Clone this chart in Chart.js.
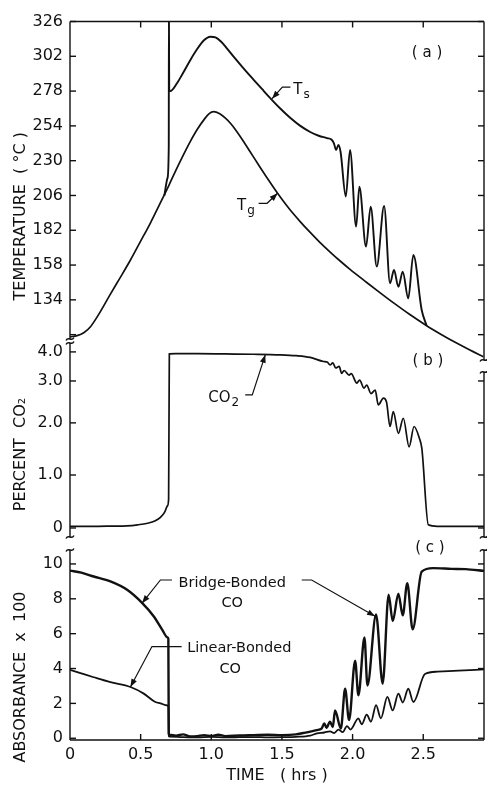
<!DOCTYPE html>
<html>
<head>
<meta charset="utf-8">
<title>Temperature, CO2 and adsorbed CO vs time</title>
<script src="https://cdn.jsdelivr.net/npm/chart.js@4.4.0/dist/chart.umd.min.js"></script>
<style>
html, body { margin: 0; padding: 0; background: #fff; }
#wrap { position: relative; width: 487px; height: 785px; }
#wrap canvas { position: absolute; left: 0; top: 0; }
</style>
</head>
<body>
<div id="wrap">
  <canvas id="tempChart" width="487" height="785"></canvas>
  <canvas id="co2Chart" width="487" height="785"></canvas>
  <canvas id="coChart" width="487" height="785"></canvas>
</div>
<script>
// ---- data (time in hrs) ----
const timeTicks = [0, 0.5, 1.0, 1.5, 2.0, 2.5];
const tempTicks = [110, 134, 158, 182, 206, 230, 254, 278, 302, 326];
const co2Ticks = [0, 1, 2, 3, 4];
const absTicks = [0, 2, 4, 6, 8, 10];

// (a) surface temperature Ts
const tsTime = [0.668, 0.69, 0.699, 0.700, 0.702, 0.71, 0.757, 0.80, 0.852, 0.90, 0.95, 0.993, 1.03, 1.07, 1.11, 1.158, 1.228, 1.30, 1.36, 1.417, 1.49, 1.558, 1.63, 1.70, 1.76, 1.818, 1.85, 1.868, 1.883, 1.90, 1.915, 1.952, 1.982, 2.025, 2.048, 2.095, 2.128, 2.171, 2.223, 2.265, 2.293, 2.324, 2.355, 2.394, 2.43, 2.489, 2.524];
const tsTemp = [206, 218, 240, 335, 279, 278, 283.4, 290.5, 299.5, 307, 313.2, 315.5, 315, 312, 307.5, 301.7, 293.7, 285.8, 279.3, 273.2, 265.8, 259.6, 254, 249.8, 247.2, 245.6, 244.6, 242, 237.4, 240.8, 236, 205.2, 237.4, 184.5, 212, 170.7, 198.3, 157, 198.7, 145.4, 154.6, 143, 153.4, 135, 165, 127, 116.2];

// (a) gas temperature Tg
const tgTime = [0, 0.05, 0.1, 0.145, 0.2, 0.286, 0.35, 0.428, 0.5, 0.569, 0.63, 0.7, 0.75, 0.8, 0.85, 0.9, 0.95, 0.985, 1.016, 1.06, 1.1, 1.14, 1.18, 1.22, 1.276, 1.335, 1.394, 1.469, 1.55, 1.629, 1.7, 1.77, 1.841, 1.912, 1.982, 2.1, 2.2, 2.3, 2.4, 2.524, 2.63, 2.736, 2.83, 2.925];
const tgTemp = [108.5, 109.3, 111.5, 115.5, 123.5, 138, 148.5, 161.5, 174.5, 187, 199, 213, 223.5, 233.5, 243, 251.5, 258.5, 262.5, 263.8, 262.3, 259.3, 255.3, 250.2, 244.5, 236, 227, 218.2, 207.5, 197, 188, 180.5, 173.5, 167, 160.8, 155, 146, 138.5, 131.2, 124.2, 116.2, 110, 104.2, 99.4, 94.8];

// (b) percent CO2
const co2Time = [0, 0.15, 0.3, 0.4, 0.48, 0.55, 0.6, 0.64, 0.67, 0.69, 0.698, 0.703, 0.75, 0.9, 1.1, 1.3, 1.488, 1.6, 1.7, 1.794, 1.82, 1.841, 1.86, 1.88, 1.905, 1.923, 1.94, 1.975, 1.99, 2.03, 2.05, 2.08, 2.1, 2.13, 2.16, 2.182, 2.218, 2.24, 2.265, 2.288, 2.324, 2.359, 2.4, 2.435, 2.472, 2.49, 2.536, 2.6, 2.93];
const co2Pct = [0.03, 0.03, 0.035, 0.04, 0.06, 0.09, 0.13, 0.2, 0.3, 0.42, 0.55, 3.93, 3.94, 3.94, 3.93, 3.92, 3.9, 3.87, 3.81, 3.67, 3.65, 3.55, 3.62, 3.45, 3.5, 3.26, 3.36, 3.2, 3.25, 2.95, 3.03, 2.83, 2.9, 2.7, 2.78, 2.43, 2.59, 2.5, 1.93, 2.27, 1.8, 2.11, 1.54, 1.93, 1.71, 1.51, 0.06, 0.03, 0.03];

// (c) absorbance x 100, bridge-bonded CO
const bridgeTime = [0, 0.08, 0.168, 0.286, 0.404, 0.51, 0.592, 0.651, 0.691, 0.696, 0.699, 0.705, 0.75, 0.8, 0.85, 0.9, 0.95, 1.0, 1.05, 1.1, 1.2, 1.3, 1.4, 1.5, 1.6, 1.65, 1.7, 1.747, 1.78, 1.80, 1.815, 1.84, 1.86, 1.876, 1.917, 1.947, 1.975, 2.018, 2.041, 2.084, 2.105, 2.166, 2.213, 2.255, 2.284, 2.324, 2.355, 2.387, 2.425, 2.489, 2.57, 2.7, 2.8, 2.93];
const bridgeAbs = [9.62, 9.5, 9.28, 9.0, 8.52, 7.77, 7.0, 6.25, 5.78, 5.7, 0.25, 0.2, 0.15, 0.22, 0.1, 0.12, 0.18, 0.12, 0.2, 0.12, 0.16, 0.18, 0.2, 0.18, 0.22, 0.3, 0.38, 0.47, 0.55, 0.85, 0.6, 0.95, 0.65, 1.6, 0.55, 2.84, 1.04, 4.45, 2.46, 5.78, 3.03, 7.1, 3.13, 8.24, 6.72, 8.3, 7.05, 8.9, 6.25, 9.56, 9.76, 9.72, 9.7, 9.6];

// (c) absorbance x 100, linear-bonded CO
const linearTime = [0, 0.08, 0.168, 0.286, 0.428, 0.522, 0.604, 0.64, 0.69, 0.696, 0.699, 0.705, 0.8, 0.9, 1.0, 1.1, 1.2, 1.3, 1.4, 1.5, 1.6, 1.7, 1.747, 1.8, 1.84, 1.87, 1.9, 1.93, 1.96, 1.985, 2.041, 2.065, 2.1, 2.13, 2.166, 2.2, 2.246, 2.284, 2.324, 2.355, 2.394, 2.43, 2.512, 2.6, 2.75, 2.93];
const linearAbs = [3.92, 3.72, 3.5, 3.22, 2.94, 2.56, 2.08, 2.0, 1.88, 1.85, 0.12, 0.1, 0.06, 0.05, 0.08, 0.05, 0.06, 0.07, 0.05, 0.06, 0.08, 0.15, 0.28, 0.33, 0.4, 0.3, 0.5, 0.35, 0.7, 0.5, 1.14, 0.8, 1.36, 0.95, 1.9, 1.14, 2.37, 1.6, 2.56, 2.05, 2.84, 2.08, 3.69, 3.82, 3.88, 3.95];

// the CO2 axis of the original is not linear: where each tick sits, as a fraction of the 0..4 span
const co2TickStops = [0, 0.301, 0.597, 0.835, 1];

const INK = '#111';
const FONT = '"DejaVu Sans", "Liberation Sans", sans-serif';
Chart.defaults.font.family = FONT;
Chart.defaults.color = INK;

function co2Warp(v) {
    const f = co2TickStops;
    if (v <= 0) return f[1] * v;
    if (v >= 4) return 1 + (f[4] - f[3]) * (v - 4);
    const i = Math.min(Math.floor(v), 3);
    return f[i] + (f[i + 1] - f[i]) * (v - i);
}

function co2Unwarp(w) {
    const f = co2TickStops;
    if (w <= 0) return w / f[1];
    if (w >= 1) return 4 + (w - 1) / (f[4] - f[3]);
    for (let i = 0; i < 4; i++) {
        if (w <= f[i + 1]) return i + (w - f[i]) / (f[i + 1] - f[i]);
    }
    return 4;
}

class WarpScale extends Chart.LinearScale {
    getPixelForValue(value) {
        if (value === null || value === undefined) return NaN;
        const lo = co2Warp(this.min), hi = co2Warp(this.max);
        return this.getPixelForDecimal((co2Warp(value) - lo) / (hi - lo));
    }
    getValueForPixel(pixel) {
        const lo = co2Warp(this.min), hi = co2Warp(this.max);
        return co2Unwarp(lo + this.getDecimalForPixel(pixel) * (hi - lo));
    }
}
WarpScale.id = 'warp';
WarpScale.defaults = Chart.LinearScale.defaults;
Chart.register(WarpScale);

function pts(xs, ys) {
    return xs.map((x, i) => ({ x: x, y: ys[i] }));
}

function curve(label, xs, ys, width, extra) {
    return Object.assign({
        label: label,
        data: pts(xs, ys),
        borderColor: INK,
        borderWidth: width,
        pointRadius: 0,
        fill: false,
        cubicInterpolationMode: 'monotone'
    }, extra || {});
}

function timeAxis(showLabels) {
    return {
        type: 'linear',
        min: 0,
        max: 2.93,
        afterBuildTicks: s => { s.ticks = timeTicks.map(v => ({ value: v })); },
        grid: { display: false, drawTicks: false },
        border: { display: false },
        ticks: {
            display: showLabels, color: INK, padding: 5, autoSkip: false, maxRotation: 0,
            font: { family: FONT, size: 16 },
            callback: v => v === 0 ? '0' : v.toFixed(1)
        },
        title: {
            display: showLabels, text: 'TIME   ( hrs )', color: INK,
            font: { family: FONT, size: 16 }, padding: 0
        },
        afterFit: s => { s.height = showLabels ? 45 : 0; }
    };
}

function valueAxis(o) {
    return {
        type: o.type || 'linear',
        min: o.min,
        max: o.max,
        afterBuildTicks: s => { s.ticks = o.ticks.map(v => ({ value: v })); },
        grid: { display: false, drawTicks: false },
        border: { display: false },
        ticks: {
            color: INK, padding: 7, autoSkip: false,
            font: { family: FONT, size: 16 },
            callback: o.format
        },
        title: {
            display: true, text: o.title, color: INK,
            font: { family: FONT, size: 16 }, padding: { top: 11, bottom: 0 }
        },
        afterFit: s => { s.width = 70; }
    };
}

// frame, inward tick marks and axis-break squiggles
function framePlugin(f) {
    return {
        id: 'frame',
        afterDatasetsDraw(chart) {
            const ctx = chart.ctx, a = chart.chartArea;
            const xs = chart.scales.x, ys = chart.scales.y;
            const lTop = a.top + f.left[0], lBot = a.bottom + f.left[1];
            const rTop = a.top + f.right[0], rBot = a.bottom + f.right[1];
            const seg = (x1, y1, x2, y2) => {
                ctx.beginPath(); ctx.moveTo(x1, y1); ctx.lineTo(x2, y2); ctx.stroke();
            };
            ctx.save();
            ctx.strokeStyle = INK;
            ctx.lineWidth = 1.4;
            seg(a.left, lTop, a.left, lBot);
            seg(a.right, rTop, a.right, rBot);
            if (f.top) seg(a.left, a.top, a.right, a.top);
            if (f.bottom) seg(a.left, a.bottom, a.right, a.bottom);
            ys.ticks.forEach(t => {
                const py = ys.getPixelForValue(t.value);
                if (py >= lTop - 1 && py <= lBot + 1) seg(a.left, py, a.left + 6, py);
                if (py >= rTop - 1 && py <= rBot + 1) seg(a.right - 6, py, a.right, py);
            });
            xs.ticks.forEach(t => {
                if (t.value === 0) return;
                const px = xs.getPixelForValue(t.value);
                if (f.top) seg(px, a.top, px, a.top + 6);
                if (f.bottom) seg(px, a.bottom - 6, px, a.bottom);
            });
            (f.breaks || []).forEach(b => {
                const bx = b[0] === 'left' ? a.left : a.right;
                const by = (b[1] === 'top' ? a.top : a.bottom) + b[2];
                ctx.beginPath();
                ctx.moveTo(bx - 4, by + 1.5);
                ctx.bezierCurveTo(bx - 1.5, by - 3.5, bx + 1.5, by + 3.5, bx + 4, by - 1.5);
                ctx.stroke();
            });
            ctx.restore();
        }
    };
}

// curve labels with leader arrows, placed in data coordinates
function notesPlugin(notes) {
    return {
        id: 'notes',
        afterDatasetsDraw(chart) {
            const ctx = chart.ctx, xs = chart.scales.x, ys = chart.scales.y;
            const P = p => [xs.getPixelForValue(p[0]), ys.getPixelForValue(p[1])];
            ctx.save();
            ctx.fillStyle = INK;
            ctx.strokeStyle = INK;
            notes.forEach(n => {
                if (n.path) {
                    const q = n.path.map(P);
                    ctx.lineWidth = 1.2;
                    ctx.beginPath();
                    q.forEach((p, i) => i ? ctx.lineTo(p[0], p[1]) : ctx.moveTo(p[0], p[1]));
                    ctx.stroke();
                    const [x1, y1] = q[q.length - 2], [x2, y2] = q[q.length - 1];
                    const ang = Math.atan2(y2 - y1, x2 - x1), L = 8, W = 3;
                    ctx.beginPath();
                    ctx.moveTo(x2, y2);
                    ctx.lineTo(x2 - L * Math.cos(ang) + W * Math.sin(ang), y2 - L * Math.sin(ang) - W * Math.cos(ang));
                    ctx.lineTo(x2 - L * Math.cos(ang) - W * Math.sin(ang), y2 - L * Math.sin(ang) + W * Math.cos(ang));
                    ctx.closePath();
                    ctx.fill();
                }
                (n.text || []).forEach(t => {
                    const [px, py] = P(t.at);
                    ctx.font = (t.size || 15) + 'px ' + FONT;
                    ctx.textAlign = t.align || 'left';
                    ctx.textBaseline = 'alphabetic';
                    ctx.fillText(t.s, px, py);
                    if (t.sub) {
                        const w = ctx.measureText(t.s).width;
                        ctx.font = '12px ' + FONT;
                        ctx.textAlign = 'left';
                        ctx.fillText(t.sub, px + w + 1, py + 4);
                    }
                });
            });
            ctx.restore();
        }
    };
}

function common(padding) {
    return {
        responsive: false,
        animation: false,
        events: [],
        layout: { padding: padding },
        plugins: { legend: { display: false }, tooltip: { enabled: false } }
    };
}

// ---- (a) temperature ----
new Chart(document.getElementById('tempChart'), {
    type: 'line',
    data: {
        datasets: [
            curve('Ts', tsTime, tsTemp, 1.9, { clip: 0 }),
            curve('Tg', tgTime, tgTemp, 1.7, { clip: false })
        ]
    },
    options: Object.assign(common({ top: 21.5, right: 3, bottom: 446, left: 0 }), {
        scales: {
            x: timeAxis(false),
            y: valueAxis({
                min: 107, max: 326, ticks: tempTicks,
                title: 'TEMPERATURE  ( °C )' + '\u2002'.repeat(9),
                format: v => v === 110 ? '' : String(v)
            })
        }
    }),
    plugins: [
        framePlugin({ left: [0, 0], right: [0, 21], top: true, bottom: false,
            breaks: [['left', 'bottom', 0], ['right', 'bottom', 21]] }),
        notesPlugin([
            { path: [[1.56, 280.8], [1.503, 280.8], [1.43, 272.8]], text: [{ s: 'T', at: [1.58, 276], sub: 's' }] },
            { path: [[1.335, 200.6], [1.395, 200.6], [1.469, 207.5]], text: [{ s: 'T', at: [1.182, 196], sub: 'g' }] },
            { text: [{ s: '( a )', at: [2.527, 301.5], align: 'center' }] }
        ])
    ]
});

// ---- (b) percent CO2 ----
new Chart(document.getElementById('co2Chart'), {
    type: 'line',
    data: {
        datasets: [curve('CO2', co2Time, co2Pct, 1.7)]
    },
    options: Object.assign(common({ top: 340, right: 3, bottom: 248, left: 0 }), {
        scales: {
            x: timeAxis(false),
            y: valueAxis({
                type: 'warp', min: -0.17, max: 4.41, ticks: co2Ticks,
                title: 'PERCENT  CO\u2082' + '\u2002'.repeat(4),
                format: v => v === 0 ? '0' : v.toFixed(1)
            })
        }
    }),
    plugins: [
        framePlugin({ left: [3, 0], right: [32, 0], top: false, bottom: false,
            breaks: [['left', 'top', 3], ['left', 'bottom', 0], ['right', 'top', 32], ['right', 'bottom', 0]] }),
        notesPlugin([
            { path: [[1.24, 2.667], [1.29, 2.667], [1.382, 3.9]], text: [{ s: 'CO', at: [0.979, 2.5], sub: '2' }] },
            { text: [{ s: '( b )', at: [2.533, 3.55], align: 'center' }] }
        ])
    ]
});

// ---- (c) absorbance ----
new Chart(document.getElementById('coChart'), {
    type: 'line',
    data: {
        datasets: [
            curve('Bridge-Bonded CO', bridgeTime, bridgeAbs, 2.4),
            curve('Linear-Bonded CO', linearTime, linearAbs, 1.8)
        ]
    },
    options: Object.assign(common({ top: 550, right: 3, bottom: 0, left: 0 }), {
        scales: {
            x: timeAxis(true),
            y: valueAxis({
                min: -0.1, max: 10.8, ticks: absTicks,
                title: 'ABSORBANCE  x  100' + '\u2002'.repeat(8),
                format: v => String(v)
            })
        }
    }),
    plugins: [
        framePlugin({ left: [0, 0], right: [0, 0], top: false, bottom: true,
            breaks: [['left', 'top', 0], ['right', 'top', 0]] }),
        notesPlugin([
            { path: [[0.722, 9.08], [0.64, 9.08], [0.51, 7.75]] },
            { path: [[1.64, 9.08], [1.71, 9.08], [2.159, 7.0]] },
            { text: [{ s: 'Bridge-Bonded', at: [1.148, 8.68], align: 'center', size: 14.5 },
                     { s: 'CO', at: [1.148, 7.53], align: 'center', size: 14.5 }] },
            { path: [[0.79, 5.26], [0.58, 5.26], [0.4276, 2.94]] },
            { text: [{ s: 'Linear-Bonded', at: [1.198, 4.95], align: 'center', size: 14.5 },
                     { s: 'CO', at: [1.134, 3.75], align: 'center', size: 14.5 }] },
            { text: [{ s: '( c )', at: [2.547, 10.69], align: 'center' }] }
        ])
    ]
});
</script>
</body>
</html>
